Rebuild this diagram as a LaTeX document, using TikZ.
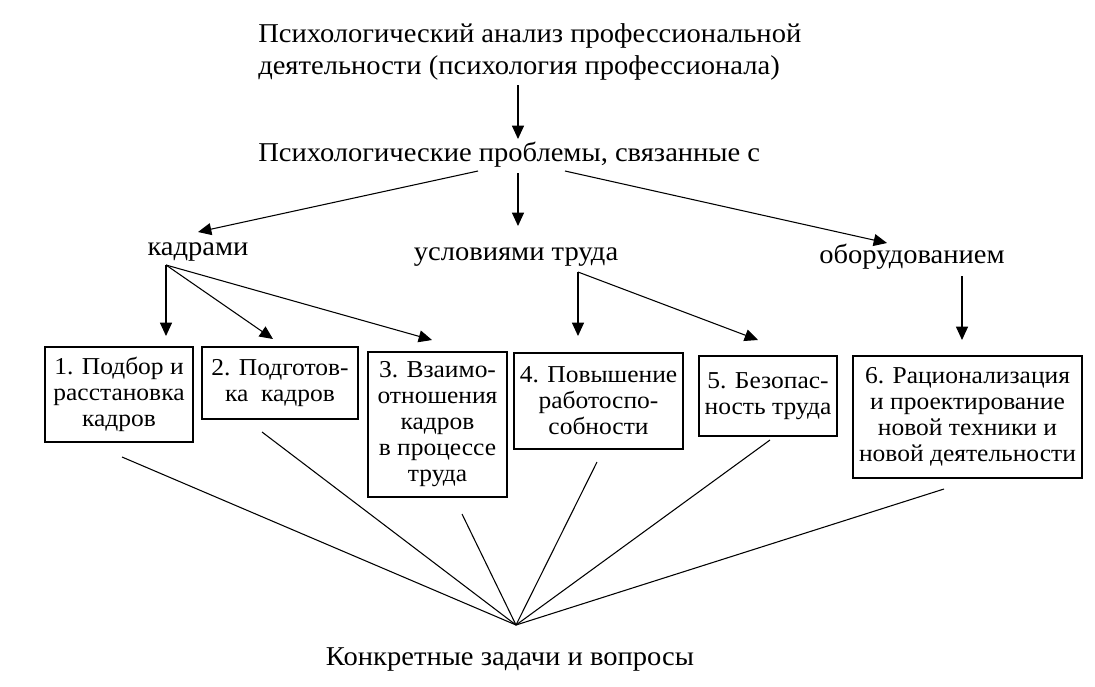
\documentclass[tikz,border=0pt]{standalone}
\usepackage{fontspec}
\setmainfont{Liberation Serif}[FakeStretch=1.05]
\usetikzlibrary{arrows.meta}
\begin{document}
\begin{tikzpicture}[x=0.75pt,y=-0.75pt,
  big/.style={font=\fontsize{20.4}{24}\selectfont, inner sep=0pt},
  boxt/.style={draw, line width=1.5pt, font=\fontsize{18.2}{19.5}\selectfont, align=center, inner sep=0pt},
  arr/.style={line width=0.8pt, -{Triangle[length=10pt,width=9pt]}},
  ln/.style={line width=0.8pt}]
\useasboundingbox (0,0) rectangle (1095,686);
% texts
\node[big, anchor=base west, align=left] (title) at (258,74) {Психологический анализ профессиональной\\деятельности (психология профессионала)};
\node[big, anchor=base west] (prob) at (258,161) {Психологические проблемы, связанные с};
\node[big, anchor=base] (kadr) at (198,255) {кадрами};
\node[big, anchor=base] (usl) at (516,260) {условиями труда};
\node[big, anchor=base] (obor) at (912,263) {оборудованием};
\node[big, anchor=base] (bot) at (510,665) {Конкретные задачи и вопросы};
% boxes
\node[boxt, minimum width=148*0.75pt, minimum height=95*0.75pt] (b1) at (119,394.5) {1. Подбор и\\расстановка\\кадров};
\node[boxt, minimum width=156*0.75pt, minimum height=72*0.75pt] (b2) at (280,383) {2. Подготов-\\ка\ \ кадров};
\node[boxt, minimum width=139*0.75pt, minimum height=145*0.75pt] (b3) at (437.5,424.5) {3. Взаимо-\\отношения\\кадров\\в процессе\\труда};
\node[boxt, minimum width=169*0.75pt, minimum height=96*0.75pt] (b4) at (598.5,401) {4. Повышение\\работоспо-\\собности};
\node[boxt, minimum width=138*0.75pt, minimum height=80*0.75pt] (b5) at (768,396) {5. Безопас-\\ность труда};
\node[boxt, minimum width=229*0.75pt, minimum height=122*0.75pt] (b6) at (967.5,417) {6. Рационализация\\и проектирование\\новой техники и\\новой деятельности};
% connector coordinates
\coordinate (t0) at (518,85);
\coordinate (t1) at (518,139);
\coordinate (p0) at (518,173);
\coordinate (pl) at (478,171);
\coordinate (pr) at (565,171);
\coordinate (tk) at (198,232);
\coordinate (tu) at (518,226);
\coordinate (to) at (887,243);
\coordinate (k0) at (166,265);
\coordinate (u0) at (578,272);
\coordinate (o0) at (962,276);
\coordinate (a1) at (166,336);
\coordinate (a2) at (273,339);
\coordinate (a3) at (432,340);
\coordinate (a4) at (578,336);
\coordinate (a5) at (758,340);
\coordinate (a6) at (962,340);
\coordinate (c) at (516,625);
\coordinate (s1) at (122,457);
\coordinate (s2) at (262,432);
\coordinate (s3) at (462,514);
\coordinate (s4) at (597,462);
\coordinate (s5) at (770,440);
\coordinate (s6) at (944,489);
% arrows
\draw[arr] (t0) -- (t1);
\draw[arr] (p0) -- (tu);
\draw[arr] (pl) -- (tk);
\draw[arr] (pr) -- (to);
\draw[arr] (k0) -- (a1);
\draw[arr] (k0) -- (a2);
\draw[arr] (k0) -- (a3);
\draw[arr] (u0) -- (a4);
\draw[arr] (u0) -- (a5);
\draw[arr] (o0) -- (a6);
\foreach \s in {s1,s2,s3,s4,s5,s6} \draw[ln] (\s) -- (c);
\end{tikzpicture}
\end{document}
